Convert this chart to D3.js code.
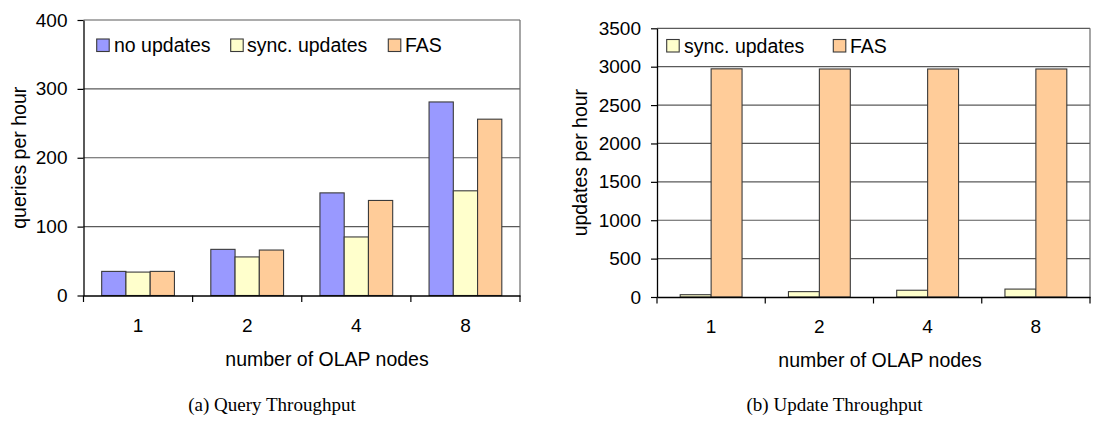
<!DOCTYPE html>
<html>
<head>
<meta charset="utf-8">
<script src="https://cdn.jsdelivr.net/npm/d3@7"></script>
<style>
  html, body { margin: 0; padding: 0; background: #fff; }
  svg text { font-family: "Liberation Sans", Arial, Helvetica, sans-serif; }
</style>
</head>
<body>
<svg id="chart" width="1112" height="431"></svg>
<script>
// ---------- data ----------
const categories = ["1", "2", "4", "8"];
const querySeriesNames = ["no updates", "sync. updates", "FAS"];
const queryNoUpdates = [35, 67, 149, 281];
const querySync = [34, 56, 85, 152];
const queryFAS = [35, 66, 138, 256];
const queryTicks = [0, 100, 200, 300, 400];

const updateSeriesNames = ["sync. updates", "FAS"];
const updateSync = [30, 70, 88, 103];
const updateFAS = [2972, 2970, 2970, 2970];
const updateTicks = [0, 500, 1000, 1500, 2000, 2500, 3000, 3500];

const xTitle = "number of OLAP nodes";
const captions = ["(a) Query Throughput", "(b) Update Throughput"];

// ---------- styling ----------
const colors = { "no updates": "#9999FF", "sync. updates": "#FFFFCC", "FAS": "#FFCC99" };
const FONT = 19.5, TICKFONT = 19;
const SANS = '"Liberation Sans", Arial, sans-serif';

const svg = d3.select("#chart");
svg.append("rect").attr("width", 1112).attr("height", 431).attr("fill", "#fff");

function drawPanel(opt) {
  const g = svg.append("g");
  const x = d3.scaleBand().domain(categories).range([opt.left, opt.right]).padding(0);
  const y = d3.scaleLinear().domain([0, opt.max]).range([opt.bottom, opt.top]);
  const n = opt.series.length;
  const bw = x.bandwidth() / (n + 1.5);
  const inner = d3.scaleBand().domain(opt.series.map(s => s.name))
    .range([0.75 * bw, 0.75 * bw + n * bw]).padding(0);

  // gridlines (incl. top border)
  g.append("g").selectAll("line").data(opt.ticks.filter(t => t > 0)).join("line")
    .attr("x1", opt.left).attr("x2", opt.right)
    .attr("y1", d => y(d)).attr("y2", d => y(d))
    .attr("stroke", "#5a5a5a").attr("stroke-width", 1.2);
  // right border
  g.append("line").attr("x1", opt.right).attr("x2", opt.right)
    .attr("y1", opt.top).attr("y2", opt.bottom)
    .attr("stroke", "#6a6a6a").attr("stroke-width", 1.2);

  // bars
  opt.series.forEach(s => {
    g.append("g").selectAll("rect").data(categories.map((c, i) => ({ c, v: s.values[i] }))).join("rect")
      .attr("x", d => x(d.c) + inner(s.name))
      .attr("width", inner.bandwidth())
      .attr("y", d => y(d.v))
      .attr("height", d => y(0) - y(d.v))
      .attr("fill", colors[s.name])
      .attr("stroke", "#3a3a3a").attr("stroke-width", 1.1);
  });

  // y axis
  const ya = g.append("g").attr("transform", `translate(${opt.left},0)`)
    .call(d3.axisLeft(y).tickValues(opt.ticks).tickFormat(d3.format("d"))
      .tickSize(6).tickPadding(10).tickSizeOuter(0));
  ya.select(".domain").attr("stroke", "#000").attr("stroke-width", 1.3);
  ya.selectAll(".tick line").attr("stroke", "#000").attr("stroke-width", 1.2);
  ya.selectAll("text").attr("font-size", TICKFONT).attr("fill", "#000").style("font-family", SANS);

  // x axis
  const xa = g.append("g").attr("transform", `translate(0,${opt.bottom})`)
    .call(d3.axisBottom(x).tickSize(0).tickPadding(23).tickSizeOuter(0));
  xa.select(".domain").attr("stroke", "#000").attr("stroke-width", 1.3);
  xa.selectAll("text").attr("font-size", TICKFONT).attr("fill", "#000").style("font-family", SANS);
  // boundary ticks
  const bounds = categories.map(c => x(c)).concat([x(categories[categories.length - 1]) + x.bandwidth()]);
  g.append("g").selectAll("line").data(bounds).join("line")
    .attr("x1", d => d).attr("x2", d => d)
    .attr("y1", opt.bottom).attr("y2", opt.bottom + 6.5)
    .attr("stroke", "#000").attr("stroke-width", 1.2);

  // y title
  g.append("text")
    .attr("transform", `translate(${opt.yTitleX},${(opt.top + opt.bottom) / 2}) rotate(-90)`)
    .attr("text-anchor", "middle").attr("font-size", FONT)
    .text(opt.yTitle);

  // x title
  g.append("text").attr("x", opt.xTitleX).attr("y", opt.bottom + 70)
    .attr("text-anchor", "middle").attr("font-size", FONT)
    .text(xTitle);

  // legend
  opt.series.forEach((s, i) => {
    const lx = opt.legendX[i];
    g.append("rect").attr("x", lx).attr("y", opt.legendY)
      .attr("width", 12.5).attr("height", 12.5)
      .attr("fill", colors[s.name]).attr("stroke", "#3a3a3a").attr("stroke-width", 1.1);
    g.append("text").attr("x", opt.legendTextX[i]).attr("y", opt.legendY + 13)
      .attr("font-size", FONT).text(s.name);
  });

  // caption
  svg.append("text").attr("x", opt.captionX).attr("y", 411)
    .attr("text-anchor", "middle")
    .style("font-family", '"Liberation Serif", "Times New Roman", serif')
    .attr("font-size", 19)
    .text(opt.caption);
}

drawPanel({
  left: 83.5, right: 520, top: 20, bottom: 295.5, max: 400, ticks: queryTicks,
  series: [
    { name: querySeriesNames[0], values: queryNoUpdates },
    { name: querySeriesNames[1], values: querySync },
    { name: querySeriesNames[2], values: queryFAS }
  ],
  yTitle: "queries per hour", yTitleX: 25.5, xTitleX: 327,
  legendX: [96.7, 230.7, 388.3], legendTextX: [114, 247, 405], legendY: 39,
  caption: captions[0], captionX: 272
});

drawPanel({
  left: 657, right: 1090, top: 28.3, bottom: 297, max: 3500, ticks: updateTicks,
  series: [
    { name: updateSeriesNames[0], values: updateSync },
    { name: updateSeriesNames[1], values: updateFAS }
  ],
  yTitle: "updates per hour", yTitleX: 586.7, xTitleX: 880,
  legendX: [666.7, 833.3], legendTextX: [684, 850], legendY: 39.5,
  caption: captions[1], captionX: 834.5
});
</script>
</body>
</html>
